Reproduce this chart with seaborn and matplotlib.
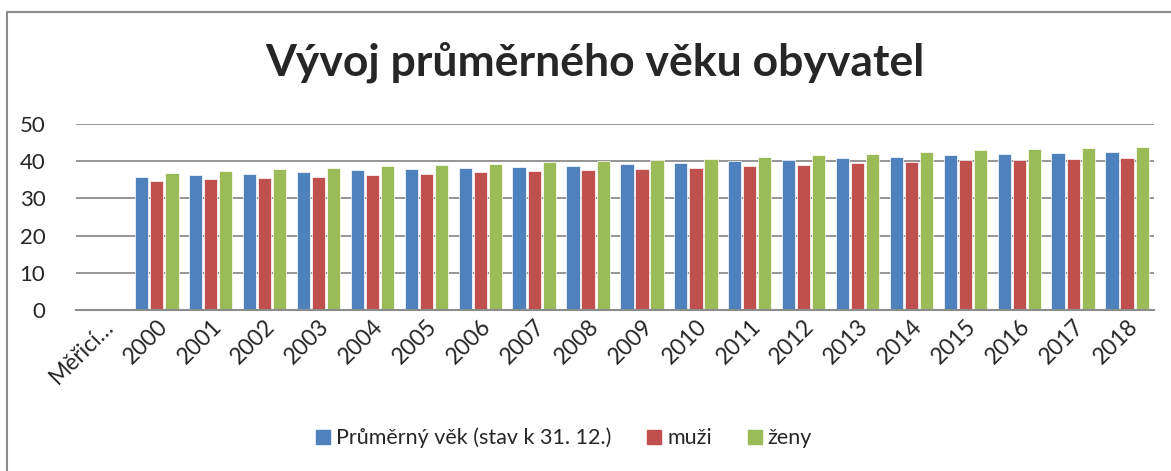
import numpy as np
import pandas as pd
import matplotlib
matplotlib.use('Agg')
import matplotlib.pyplot as plt
import seaborn as sns
from matplotlib.patches import Rectangle
from matplotlib.lines import Line2D

# ------------------------------------------------------
# DATA
# ------------------------------------------------------

categories = ['Měřicí…'] + [str(y) for y in range(2000, 2019)]

prumer = [np.nan, 35.8, 36.3, 36.7, 37.1, 37.6, 37.8, 38.2, 38.5, 38.8, 39.3,
          39.5, 40.0, 40.4, 40.8, 41.1, 41.6, 41.9, 42.1, 42.4]
muzi = [np.nan, 34.7, 35.1, 35.6, 35.9, 36.2, 36.7, 37.0, 37.4, 37.6, 37.9,
        38.2, 38.7, 39.1, 39.5, 39.9, 40.3, 40.4, 40.7, 40.9]
zeny = [np.nan, 36.9, 37.4, 37.8, 38.3, 38.7, 39.0, 39.4, 39.8, 40.0, 40.4,
        40.7, 41.1, 41.8, 42.0, 42.4, 42.9, 43.2, 43.6, 43.8]

series_names = ['Průměrný věk (stav k 31. 12.)', 'muži', 'ženy']
colors = ['#4F81BD', '#C0504D', '#9BBB59']

# long form table for seaborn
df = pd.DataFrame({
    'kategorie': categories * 3,
    'serie': [series_names[0]] * len(categories) + [series_names[1]] * len(categories) + [series_names[2]] * len(categories),
    'hodnota': prumer + muzi + zeny,
})

# ------------------------------------------------------
# PLOT
# ------------------------------------------------------

sns.set_style('white')
plt.rcParams['font.family'] = ['Lato', 'DejaVu Sans']

fig = plt.figure(figsize=(11.71, 4.71), dpi=100)
ax = fig.add_axes([0.0649, 0.342, 0.9206, 0.3945])

sns.barplot(data=df, x='kategorie', y='hodnota', hue='serie', order=categories,
            hue_order=series_names, palette=colors, width=0.84, gap=0.12,
            saturation=1, edgecolor='white', linewidth=0.5, ax=ax, legend=False)

ax.set_ylim(0, 50)
ax.set_yticks([0, 10, 20, 30, 40, 50])
ax.set_xlim(-0.5, len(categories) - 0.5)
ax.yaxis.grid(True, color='#8c8c8c', linewidth=1.3)
ax.set_axisbelow(True)
for s in ['top', 'right', 'left']:
    ax.spines[s].set_visible(False)
ax.spines['bottom'].set_color('#8c8c8c')
ax.spines['bottom'].set_linewidth(1.5)
ax.set_xlabel('')
ax.set_ylabel('')
ax.tick_params(axis='y', length=0, labelsize=16, pad=22)
ax.tick_params(axis='x', length=0, labelsize=16.5, pad=4)
plt.setp(ax.get_xticklabels(), rotation=45, ha='right', rotation_mode='anchor')

# Title
fig.text(0.508, 0.868, 'Vývoj průměrného věku obyvatel', ha='center', va='center',
         fontsize=32, fontweight='bold')

# Legend
handles = [Line2D([], [], marker='s', linestyle='', markersize=10, color=c) for c in colors]
fig.legend(handles, series_names, loc='center', bbox_to_anchor=(0.48, 0.07), ncol=3,
           frameon=False, fontsize=15.5, handletextpad=0.1, columnspacing=1.5, handlelength=1.0)

# Outer chart border
fig.patches.append(Rectangle((7 / 1171, -0.1), 1.2, 1 - 12 / 471 + 0.1, transform=fig.transFigure,
                             fill=False, edgecolor='#8c8c8c', linewidth=1.5))

plt.savefig('out.png', dpi=100)
plt.close('all')
